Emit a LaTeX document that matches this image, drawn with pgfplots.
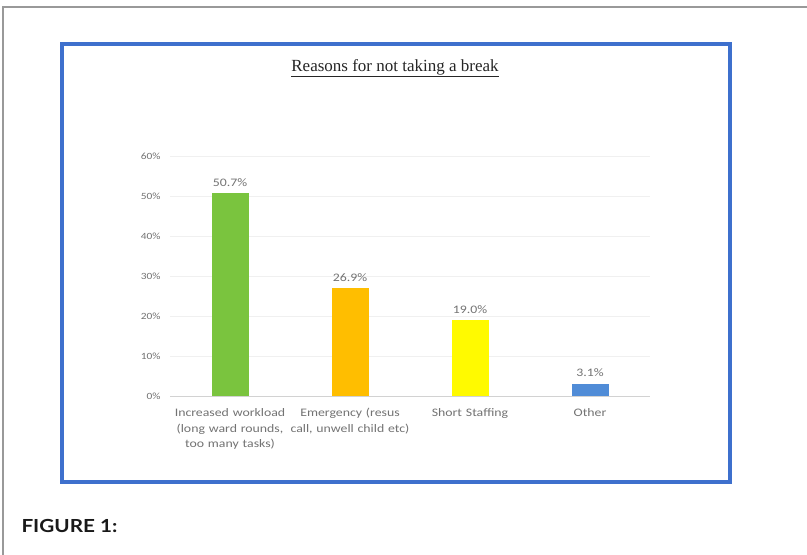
\documentclass[border=0pt]{standalone}
\usepackage{fontspec}
\usepackage{pgfplots}
\pgfplotsset{compat=1.18}
\setmainfont{Carlito}
\newfontfamily\chartfont[FakeStretch=1.2]{Carlito}
\newfontfamily\titlefont{Liberation Serif}
\newfontfamily\figfont[FakeStretch=1.15]{Lato}

\definecolor{barGreen}{RGB}{122,196,62}
\definecolor{barOrange}{RGB}{255,190,0}
\definecolor{barYellow}{RGB}{255,250,0}
\definecolor{barBlue}{RGB}{80,140,215}
\definecolor{frameBlue}{RGB}{62,112,205}
\definecolor{txtGray}{RGB}{115,115,115}

\begin{document}
\begin{tikzpicture}
  \fill[white] (0,0) rectangle (807bp,555bp);
  \useasboundingbox (0,0) rectangle (807bp,555bp);
  % outer page rule
  \draw[gray!80, line width=1.2bp] (3bp,0) -- (3bp,548bp) -- (807bp,548bp);
  % blue chart frame
  \draw[frameBlue, line width=4bp] (62bp,73bp) rectangle (730bp,511bp);

  \begin{axis}[
    at={(170bp,159bp)}, anchor=south west,
    scale only axis, width=480bp, height=240bp,
    xmin=-0.5, xmax=3.5, ymin=0, ymax=60,
    axis lines*=left,
    x axis line style={gray!35},
    y axis line style={draw=none},
    major tick length=0pt,
    ytick={0,10,...,60},
    yticklabel={\pgfmathprintnumber{\tick}\%},
    /pgf/number format/assume math mode=true,
    ymajorgrids, grid style={gray!12},
    yticklabel style={font=\chartfont\fontsize{9.5bp}{10bp}\selectfont, text=txtGray, xshift=-6bp},
    xtick={0,1,2,3},
    xticklabels={{Increased workload (long ward rounds, too many tasks)},
                 {Emergency (resus call, unwell child etc)},
                 {Short Staffing}, {Other}},
    xticklabel style={font=\chartfont\fontsize{11.5bp}{15.5bp}\selectfont, text=txtGray,
                      text width=122bp, align=center, yshift=-9bp},
    bar width=37bp,
    every node near coord/.append style={font=\chartfont\fontsize{11.5bp}{12bp}\selectfont,
                      text=txtGray, yshift=3bp},
  ]
    \addplot[ybar, bar shift=0pt, fill=barGreen, draw=none,
      nodes near coords={\pgfmathprintnumber[fixed,precision=1,fixed zerofill]{\pgfplotspointmeta}\%}]
      coordinates {(0,50.7)};
    \addplot[ybar, bar shift=0pt, fill=barOrange, draw=none,
      nodes near coords={\pgfmathprintnumber[fixed,precision=1,fixed zerofill]{\pgfplotspointmeta}\%}]
      coordinates {(1,26.9)};
    \addplot[ybar, bar shift=0pt, fill=barYellow, draw=none,
      nodes near coords={\pgfmathprintnumber[fixed,precision=1,fixed zerofill]{\pgfplotspointmeta}\%}]
      coordinates {(2,19.0)};
    \addplot[ybar, bar shift=0pt, fill=barBlue, draw=none,
      nodes near coords={\pgfmathprintnumber[fixed,precision=1,fixed zerofill]{\pgfplotspointmeta}\%}]
      coordinates {(3,3.1)};
  \end{axis}

  \node[font=\titlefont\fontsize{17bp}{20bp}\selectfont, text=black!85] at (395bp,487bp)
    {\underline{Reasons for not taking a break}};
  \node[anchor=base west, font=\figfont\bfseries\fontsize{18bp}{21bp}\selectfont, text=black!90]
    at (18bp,23bp) {FIGURE 1:};
\end{tikzpicture}
\end{document}
